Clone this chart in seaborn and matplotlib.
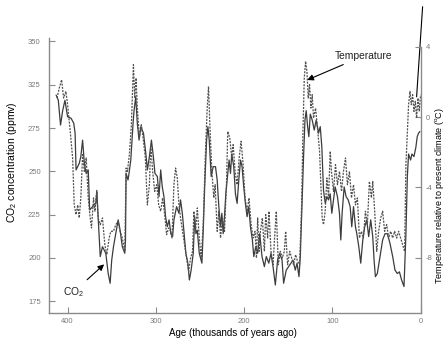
import matplotlib
matplotlib.use("Agg")
import matplotlib.pyplot as plt
import seaborn as sns
import pandas as pd

# ---- data ----
co2_age = [413, 410.5, 408, 405.6, 403, 400, 396, 393, 391.5, 390.4, 386.8, 385, 383, 381, 379, 376.6,
           375, 371.7, 368, 366.9, 365.4, 363, 360.5, 356.7, 354, 351.8, 350, 348, 345.4, 342.7, 340.5,
           338, 335.2, 334.4, 333.7, 331.5, 330.4, 328.4, 325.8, 324.7, 322.8, 321, 319, 317, 314, 311.3,
           309.6, 307.3, 305, 302.8, 301, 298.3, 296.4, 294.5, 292.7, 290.8, 289, 287, 285, 283, 281,
           279.5, 276.5, 273.8, 272, 270, 268, 266, 263.7, 262, 260, 257.6, 256, 254.6, 253, 250.8, 247.8,
           246.3, 244.8, 242.5, 241, 239.5, 237.3, 235, 232.4, 230.5, 228.6, 226.7, 225.2, 223.7, 222.2,
           220.7, 218.5, 217, 215.4, 214, 211.7, 209.8, 207.9, 206, 204, 202.3, 200.4, 198.5, 196.6, 194.7,
           192.8, 190.6, 189, 186.8, 184.6, 182.3, 179.7, 177, 174.8, 172, 169.5, 167.2, 164.6, 162, 159.7,
           157, 155.2, 152.2, 149.5, 146.9, 144.6, 142, 140, 137.8, 136.3, 134.5, 132.6, 131, 129.6, 128,
           126.6, 125, 122.8, 120.5, 118.3, 115.6, 113.7, 111.9, 110, 108, 106.2, 104.3, 102.4, 100.6, 98.7,
           96.8, 94.2, 91.9, 90.4, 88.9, 86.6, 84.4, 82, 79.8, 78, 76, 73.8, 72.3, 70, 67.8, 65.5, 63.3, 61,
           58.8, 56.5, 54.2, 52.7, 51.2, 49, 46, 43, 40.3, 37.7, 34.7, 31.6, 29, 26.4, 24, 21.5, 18.8, 16.6,
           15, 13.6, 11.3, 9.8, 7.5, 5.3, 3.8, 2.3, 0.8]
co2_ppmv = [294, 291, 276.7, 285, 291, 281.5, 280.6, 277.7, 272, 250.8, 254.6, 258.5, 268, 254.6, 248.8,
            250.8, 227.7, 229.6, 231.5, 239, 223.8, 200.8, 206.5, 202.7, 191, 185.4, 198.8, 206.5, 214, 222,
            216, 206.5, 202.7, 210, 248.8, 245, 248.8, 256.5, 277.7, 285, 293, 277.7, 268, 275.8, 272, 260,
            250.8, 258.5, 268, 258.5, 248.8, 247, 235.4, 250.8, 241, 235.4, 223.8, 218, 222, 214, 212.3,
            222, 229.6, 225.8, 233.5, 225.8, 214, 202.7, 197, 187.3, 193, 202.7, 223.8, 214, 216, 202.7, 197,
            216, 239, 268, 275.8, 268, 247, 252.7, 252.7, 245, 229.6, 218, 225.8, 214, 223.8,
            237, 248.8, 256.5, 248.8, 260, 252.7, 237, 231.5, 245, 256.5, 252.7, 241, 231.5, 223.8, 229.6,
            218, 210.4, 200.8, 206.5, 202.7, 214, 200.8, 195, 200.8, 197, 202.7, 195, 184.4, 198.8, 202.7,
            198.8, 185.4, 193, 195, 197, 198.8, 193, 197, 189.2, 200.8, 229.6, 258.5, 279.6, 285, 275.8,
            270, 283, 279.6, 273.8, 279.6, 272, 275.8, 264, 239, 231.5, 235.4, 233.5, 237, 225.8, 233.5,
            241, 235.4, 225.8, 210.4, 225.8, 241, 235.4, 233.5, 229.6, 218, 229.6, 218, 214, 206.5, 197, 210.4, 218, 222,
            212.3, 222, 212.3, 198.8, 189.2, 191, 200.8, 210.4, 214, 214, 208.5, 200.8, 193, 191, 192, 187.3, 183.5, 214,
            247, 260, 256.5, 260, 258.5, 264, 270, 272, 273]

temp_age = [412, 409.4, 406.8, 404.5, 401.9, 400, 397, 394.3, 392.5, 390.4, 388.5, 386.8, 385, 383, 381,
            378.9, 376.6, 374.4, 372.9, 370.6, 369, 366.9, 365.4, 363, 360.5, 357.8, 355.6, 352.9, 351,
            348, 345.4, 342.7, 340.5, 338, 335.2, 333.7, 332.2, 330, 327.7, 325.4, 323.9, 322.4, 321,
            318.6, 316.4, 314, 311.9, 309.6, 307.3, 305.8, 303.6, 301.3, 299, 296.8, 294.5, 292.3, 290,
            287.8, 285.5, 283.2, 281.7, 279.5, 277.6, 275.7, 273.8, 272, 269.7, 267.4, 265.2, 262.9, 260.6,
            258.4, 256.9, 255, 253, 250.8, 248.6, 246.3, 244, 241.8, 240.3, 238.8, 236.5, 234.3, 232.8,
            230.5, 228.6, 226.7, 224.5, 222.2, 220, 218.5, 216.2, 214, 212.4, 210.2, 207.9, 205.6, 203.4,
            201.1, 198.9, 196.6, 194.4, 192, 189.8, 187.6, 186, 184.6, 183, 181.5, 179.3, 177, 175.5, 173.3,
            171.8, 169.5, 167.2, 165, 163.5, 161.2, 158.9, 156.7, 154.4, 152.9, 150.7, 148.3, 146.1, 143.9,
            141.6, 139.4, 137.1, 134.8, 133.3, 131.8, 130.3, 128.8, 127.3, 125.8, 124.3, 122.8, 121.3, 119,
            116.8, 114.5, 113, 111.5, 110, 108.1, 106.2, 104.3, 102.4, 101, 98.7, 96.4, 94.2, 91.9, 89.6,
            87.4, 85.1, 82.9, 80.6, 78.3, 76, 73.8, 71.6, 69.3, 67, 64.8, 62.5, 60.3, 58, 55.7, 54.2, 52,
            49.7, 47.5, 45.2, 43, 40.7, 38.4, 36.2, 33.9, 31.6, 29.4, 27.1, 24.9, 22.6, 20.3, 18.1, 16.6,
            15, 13.6, 12, 10.5, 9, 7.5, 6, 4.5, 3, 1.5, 0]
temp_c = [1.08, 1.65, 2.12, 1.08, 1.46, 0.7, -0.82, -2.33, -5.0, -5.55, -5.0, -5.74, -4.6, -2.14, -3.09,
          -2.33, -4.6, -5.74, -6.31, -4.6, -5.36, -4.23, -5.74, -6.12, -5.74, -7.26, -7.83, -6.88, -6.5,
          -6.5, -6.12, -5.93, -6.5, -6.88, -7.64, -2.9, -3.09, -2.14, -0.44, 2.98, 1.08, 2.22, 0.51,
          -1.19, -0.44, -1.38, -2.33, -5.0, -3.85, -1.57, -3.09, -4.23, -3.85, -5.0, -5.36, -4.6, -5.55,
          -6.69, -6.31, -6.5, -6.88, -3.85, -2.9, -3.47, -5.0, -5.74, -6.5, -7.26, -8.02, -8.78, -8.02,
          -7.64, -5.36, -6.5, -5.17, -6.88, -8.02, -6.12, -2.33, 0.51, 1.74, -0.44, -3.09, -4.6, -3.85,
          -6.5, -5.36, -6.88, -5.74, -6.5, -3.85, -0.82, -1.19, -2.33, -1.57, -3.09, -3.85, -2.33, -1.38,
          -2.71, -4.6, -5.36, -4.6, -6.12, -6.88, -6.5, -8.02, -5.74, -7.64, -6.5, -5.74, -7.64, -5.55, -6.88,
          -5.36, -7.64, -8.4, -6.5, -5.36, -8.4, -7.64, -8.02, -7.64, -6.5, -8.4, -7.64, -8.02, -8.4,
          -7.83, -8.21, -8.4, -5.0, -0.82, 2.22, 3.17, 2.6, 1.08, 1.84, 0.51, 1.27, -0.06, 0.51,
          -0.63, -1.95, -3.85, -5.74, -6.12, -5.36, -3.47, -4.6, -1.95, -3.09, -4.23, -2.71, -3.85, -3.09, -4.23,
          -3.09, -2.33, -3.85, -3.09, -4.6, -3.85, -5.0, -4.6, -6.88, -6.5, -6.88, -5.36, -6.12, -3.66, -4.6, -3.66, -5.36,
          -7.64, -6.5, -5.74, -5.36, -6.5, -6.12, -6.88, -6.5, -6.88, -6.5, -6.88, -6.5, -6.88, -7.26, -7.64, -2.71,
          -0.82, 0.7, 1.46, 0.7, 1.27, 0.32, 0.89, -0.06, 1.08, 0.32, 1.27]

modern_age = [4.5, -2.3]
modern_co2 = [293, 345]

x_ticks = [400, 300, 200, 100, 0]
co2_ticks = [175, 200, 225, 250, 275, 300, 325]
co2_tick_labels = ["175", "200", "225", "250", "275", "325", "350"]
temp_ticks = [4, 0, -4, -8]

co2_df = pd.DataFrame({"age": co2_age, "co2": co2_ppmv})
temp_df = pd.DataFrame({"age": temp_age, "temp": temp_c})
modern_df = pd.DataFrame({"age": modern_age, "co2": modern_co2})

sns.set_style("ticks")
plt.rcParams["font.family"] = ["Liberation Sans", "DejaVu Sans"]
plt.rcParams["mathtext.default"] = "regular"

fig = plt.figure(figsize=(4.46, 3.43), dpi=100)
ax = fig.add_axes([0.110, 0.0883, 0.833, 0.8017])
ax2 = ax.twinx()

line_col = "#3c3c3c"
spine_col = "#8a8a8a"
tick_lab_col = "#7a7a7a"

sns.lineplot(data=co2_df, x="age", y="co2", ax=ax, color=line_col, lw=0.9,
             estimator=None, sort=False)
sns.lineplot(data=temp_df, x="age", y="temp", ax=ax2, color="#505050", lw=0.9,
             estimator=None, sort=False, linestyle=(0, (1.6, 1.0)))
sns.lineplot(data=modern_df, x="age", y="co2", ax=ax, color="black", lw=0.8,
             estimator=None, sort=False, clip_on=False)

ax.set_xlim(421, 0)
ax.set_ylim(168.4, 327.1)
ax2.set_ylim(-11.13, 4.51)

ax.set_xticks(x_ticks)
ax.set_xticklabels([str(t) for t in x_ticks])
ax.set_yticks(co2_ticks)
ax.set_yticklabels(co2_tick_labels)
ax2.set_yticks(temp_ticks)
ax2.set_yticklabels([str(t) for t in temp_ticks])

for a in (ax, ax2):
    a.tick_params(direction="in", length=4, width=0.8, colors=spine_col,
                  labelcolor=tick_lab_col, labelsize=5.5)
ax.tick_params(axis="y", pad=6)
ax.tick_params(axis="x", pad=4)
ax2.tick_params(axis="y", pad=3.5)

ax.spines["top"].set_visible(False)
ax.spines["right"].set_visible(False)
for s in ("left", "bottom"):
    ax.spines[s].set_color(spine_col)
    ax.spines[s].set_linewidth(1.0)
ax2.spines["top"].set_visible(False)
ax2.spines["left"].set_visible(False)
ax2.spines["bottom"].set_visible(False)
ax2.spines["right"].set_color(spine_col)
ax2.spines["right"].set_linewidth(1.0)
ax2.spines["right"].set_bounds(-11.13, 4)

ax.set_xlabel("Age (thousands of years ago)", fontsize=7, color="black")
ax.xaxis.set_label_coords(0.494, -0.056)
ax.set_ylabel("CO$_2$ concentration (ppmv)", fontsize=7.5, color="black")
ax.yaxis.set_label_coords(-0.080, 0.546)
ax2.set_ylabel("")
fig.text(439.5 / 446, 1 - 196 / 343, "Temperature relative to present climate ($^o$C)",
         rotation=90, ha="center", va="center", fontsize=6.5, color="black")

ax.annotate("Temperature", xy=(128.5, 302.7), xytext=(96.8, 316.7),
            fontsize=7.4, color="#222222", ha="left", va="center",
            arrowprops=dict(arrowstyle="-|>", color="black", lw=0.8,
                            mutation_scale=9, shrinkA=1, shrinkB=0))
ax.annotate("CO$_2$", xy=(358.6, 196.3), xytext=(393, 180.5),
            fontsize=7.4, color="#222222", ha="center", va="center",
            arrowprops=dict(arrowstyle="-|>", color="black", lw=0.8,
                            mutation_scale=9, shrinkA=2, shrinkB=0))

fig.savefig("out.png", dpi=100)
